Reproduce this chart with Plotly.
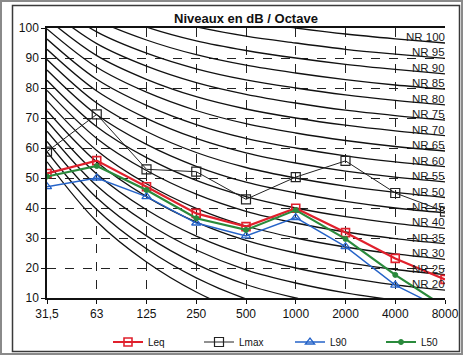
import plotly.graph_objects as go

# ---- data -------------------------------------------------------------
BANDS = ["31,5", "63", "125", "250", "500", "1000", "2000", "4000", "8000"]

LEQ  = [51.5, 55.8, 47.1, 38.2, 33.8, 39.9, 31.8, 23.2, 16.2]
LMAX = [58.8, 71.2, 52.9, 52.1, 42.9, 50.3, 55.7, 45.0, 38.8]
L90  = [47.1, 50.0, 43.8, 35.0, 30.7, 36.8, 27.1, 14.3, 6.0]
L50  = [50.5, 54.0, 46.0, 36.6, 32.7, 39.3, 29.7, 17.7, 7.0]

# Noise Rating reference curves (standard NR table, dB per octave band)
NR_LEVELS = [0, 5, 10, 15, 20, 25, 30, 35, 40, 45, 50,
             55, 60, 65, 70, 75, 80, 85, 90, 95, 100]
NR_TABLE = [
    [55.4, 35.5, 22.0, 12.0, 4.8, 0, -3.5, -6.1, -8.0],
    [58.8, 39.5, 26.4, 16.7, 9.7, 5, 1.6, -1.0, -2.9],
    [62.2, 43.4, 30.7, 21.3, 14.5, 10, 6.7, 4.2, 2.3],
    [65.6, 47.4, 35.1, 26.0, 19.4, 15, 11.7, 9.3, 7.5],
    [69.0, 51.3, 39.4, 30.6, 24.3, 20, 16.8, 14.4, 12.6],
    [72.4, 55.3, 43.8, 35.3, 29.2, 25, 21.9, 19.5, 17.8],
    [75.8, 59.2, 48.1, 39.9, 34.0, 30, 27.0, 24.7, 22.9],
    [79.2, 63.2, 52.5, 44.6, 38.9, 35, 32.0, 29.8, 28.1],
    [82.6, 67.1, 56.8, 49.2, 43.8, 40, 37.1, 34.9, 33.2],
    [86.0, 71.1, 61.2, 53.9, 48.6, 45, 42.2, 40.0, 38.4],
    [89.5, 75.0, 65.5, 58.5, 53.5, 50, 47.3, 45.2, 43.5],
    [92.9, 79.0, 69.9, 63.2, 58.4, 55, 52.3, 50.3, 48.7],
    [96.3, 82.9, 74.2, 67.8, 63.2, 60, 57.4, 55.4, 53.8],
    [99.7, 86.9, 78.6, 72.5, 68.1, 65, 62.5, 60.5, 59.0],
    [103.1, 90.8, 82.9, 77.1, 73.0, 70, 67.6, 65.7, 64.1],
    [106.5, 94.8, 87.3, 81.8, 77.9, 75, 72.6, 70.8, 69.3],
    [109.9, 98.7, 91.6, 86.4, 82.7, 80, 77.7, 75.9, 74.4],
    [113.3, 102.7, 96.0, 91.1, 87.6, 85, 82.8, 81.0, 79.6],
    [116.7, 106.6, 100.3, 95.7, 92.5, 90, 87.9, 86.2, 84.7],
    [120.1, 110.6, 104.7, 100.4, 97.3, 95, 92.9, 91.3, 89.9],
    [123.5, 114.5, 109.0, 105.0, 102.2, 100, 98.0, 96.4, 95.0],
]
NR_LABEL_MIN = 20

Y_TICKS = [10, 20, 30, 40, 50, 60, 70, 80, 90, 100]

# ---- figure -----------------------------------------------------------
FONT = "Liberation Sans, Arial, sans-serif"
fig = go.Figure()

for lvl, vals in zip(NR_LEVELS, NR_TABLE):
    fig.add_trace(go.Scatter(
        x=BANDS, y=vals, mode="lines", showlegend=False, hoverinfo="skip",
        line=dict(color="#111111", width=1.3, shape="spline", smoothing=1.0),
    ))

series = [
    ("Leq", LEQ, "#e0202c", 2.2, "square-open", 8, 1.6),
    ("Lmax", LMAX, "#222222", 1.0, "square-open", 9, 1.2),
    ("L90", L90, "#2563c8", 1.4, "triangle-up-open", 8, 1.3),
    ("L50", L50, "#2a8a3c", 2.2, "circle", 5, 1.0),
]
for name, vals, col, w, sym, sz, mlw in series:
    fig.add_trace(go.Scatter(
        x=BANDS, y=vals, mode="lines+markers", name=name,
        line=dict(color=col, width=w),
        marker=dict(symbol=sym, size=sz, color=col, line=dict(color=col, width=mlw)),
    ))

last = len(BANDS) - 1
for lvl, vals in zip(NR_LEVELS, NR_TABLE):
    if lvl >= NR_LABEL_MIN:
        fig.add_annotation(
            x=last, y=vals[-1], xref="x", yref="y", text=f"NR {lvl}", showarrow=False,
            xanchor="right", yanchor="middle", yshift=6, xshift=2,
            font=dict(family=FONT, size=11.5, color="#1a1a1a"),
        )

# plot geometry in pixels
W, H = 463, 355
L, R, T, B = 47, 18, 28, 57
pw, ph = W - L - R, H - T - B


def px(x):
    return (x - L) / pw


def py(y):
    return (H - B - y) / ph


# chart frame and scan edge
fig.add_shape(type="rect", xref="paper", yref="paper",
              x0=px(12.5), x1=px(459.5), y0=py(351.5), y1=py(5.5),
              line=dict(color="#3a3a3a", width=1.5), layer="below")
fig.add_shape(type="rect", xref="paper", yref="paper",
              x0=px(1), x1=px(462), y0=py(354), y1=py(1),
              line=dict(color="#8a8a8a", width=2), layer="below")

fig.update_layout(
    width=W, height=H,
    margin=dict(l=L, r=R, t=T, b=B, autoexpand=False),
    paper_bgcolor="white", plot_bgcolor="white",
    font=dict(family=FONT, size=12, color="#111111"),
    title=dict(text="<b>Niveaux en dB / Octave</b>", x=0.5, xref="paper",
               xanchor="center", y=1 - 18 / H, yref="container", yanchor="middle",
               font=dict(family=FONT, size=13, color="#111111")),
    showlegend=True,
    legend=dict(orientation="h", x=px(108), xanchor="left", y=py(342), yanchor="middle",
                font=dict(family=FONT, size=10, color="#111111"),
                itemwidth=30, entrywidth=46, entrywidthmode="pixels",
                bgcolor="rgba(0,0,0,0)"),
    xaxis=dict(type="category", categoryorder="array", categoryarray=BANDS,
               range=[0, last], showgrid=True, gridcolor="#222222",
               griddash="dash", gridwidth=1, showline=True, linecolor="#111111",
               linewidth=1.5, mirror=True, ticks="outside", ticklen=4,
               tickcolor="#111111", tickfont=dict(size=12), zeroline=False),
    yaxis=dict(range=[10, 100], tickvals=Y_TICKS, showgrid=True, gridcolor="#222222",
               griddash="dash", gridwidth=1, showline=True, linecolor="#111111",
               linewidth=1.5, ticks="outside", ticklen=4, tickcolor="#111111",
               tickfont=dict(size=12), zeroline=False),
)

fig.write_html("out.html", config={"displayModeBar": False},
               post_script="document.body.style.margin='0';")
